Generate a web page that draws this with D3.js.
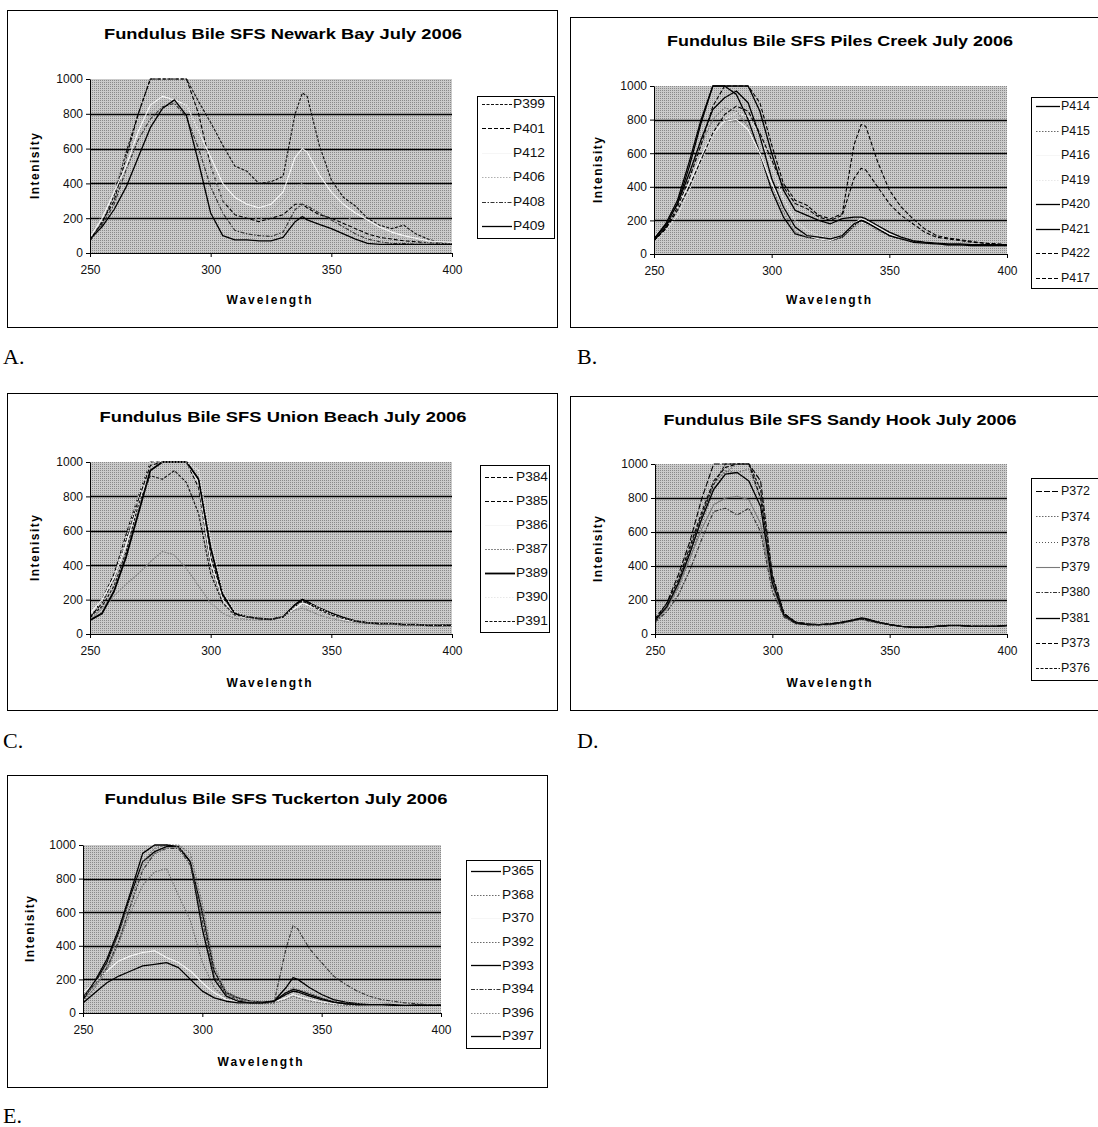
<!DOCTYPE html>
<html>
<head>
<meta charset="utf-8">
<script src="https://cdn.jsdelivr.net/npm/d3@7"></script>
<style>
  html, body { margin: 0; padding: 0; background: #fff; }
  svg { display: block; }
</style>
</head>
<body>
<svg id="chart" width="1098" height="1127"></svg>
<script>
// ---------------- DATA ----------------
const wavelengths = [250,255,260,265,270,275,280,285,290,295,300,305,310,315,320,325,330,335,338,340,345,350,355,360,365,370,375,380,385,390,395,400];
const xTicks = [250,300,350,400];
const yTicks = [0,200,400,600,800,1000];

const newarkNames = ["P399","P401","P412","P406","P408","P409"];
const newarkValues = [
  [80,170,330,580,800,1000,1000,1000,1000,870,750,620,500,470,400,410,440,800,920,900,620,420,320,270,200,160,140,160,110,80,60,55],
  [70,180,300,550,800,1000,1000,1000,1000,800,500,300,220,200,180,200,220,280,280,260,220,200,170,140,110,90,80,70,65,60,55,50],
  [90,200,350,500,700,850,900,880,850,700,550,400,320,280,260,280,350,550,600,580,450,350,280,230,190,150,120,100,85,70,65,60],
  [100,220,380,550,650,800,870,900,850,700,500,300,250,220,190,230,300,380,400,370,320,280,220,180,150,120,100,90,75,60,55,55],
  [70,160,280,480,650,770,840,860,780,600,380,230,130,110,100,95,120,250,280,270,230,190,150,110,80,65,55,55,50,50,50,50],
  [80,150,250,380,550,720,830,880,790,520,230,100,75,75,70,70,90,180,210,190,165,140,110,80,55,50,50,50,50,50,50,50]
];

const pilesNames = ["P414","P415","P416","P419","P420","P421","P422","P417"];
const pilesValues = [
  [80,160,300,520,780,1000,1000,950,800,600,380,220,120,100,90,80,100,170,200,190,150,110,90,75,65,60,55,55,50,50,50,50],
  [90,170,300,480,650,800,870,850,760,600,400,250,130,100,90,80,100,160,190,180,140,110,90,70,65,60,55,55,50,50,50,50],
  [100,180,280,420,580,720,790,800,740,600,420,280,160,110,90,80,110,180,210,200,160,120,90,70,65,60,55,55,50,50,50,50],
  [70,140,230,380,550,700,800,840,820,700,520,330,200,140,110,90,110,170,190,180,150,120,95,80,70,65,60,60,55,55,50,50],
  [90,170,300,480,680,860,930,970,900,700,450,280,160,110,100,90,110,180,200,190,150,110,90,70,65,60,55,55,50,50,50,50],
  [90,180,320,550,800,1000,1000,1000,1000,850,600,380,260,230,200,180,210,220,220,210,170,130,100,80,70,65,60,60,55,55,55,55],
  [80,150,280,450,650,880,1000,1000,1000,900,650,420,320,290,230,210,240,650,770,760,550,380,280,210,150,110,95,85,75,65,60,55],
  [80,150,260,400,560,720,830,880,850,720,560,400,300,270,220,200,230,450,510,500,400,300,230,180,130,100,90,80,70,65,60,55]
];

const unionNames = ["P384","P385","P386","P387","P389","P390","P391"];
const unionValues = [
  [90,200,350,580,800,1000,1000,1000,1000,900,450,220,120,100,90,85,100,160,190,180,150,120,90,75,65,60,60,55,55,50,50,50],
  [100,180,320,550,780,980,1000,1000,1000,850,400,200,110,100,90,85,100,170,200,190,150,110,90,75,65,60,60,55,55,50,50,50],
  [120,200,330,520,750,950,1000,1000,1000,880,420,200,110,95,90,85,95,150,180,170,140,110,85,70,60,60,55,55,50,50,50,45],
  [80,150,220,290,350,420,480,460,380,280,180,120,90,85,80,85,100,140,150,140,110,90,75,65,60,55,55,50,50,50,45,45],
  [80,120,250,450,700,950,1000,1000,1000,900,500,230,120,100,90,85,100,170,200,185,150,120,95,75,65,60,60,55,55,50,50,50],
  [110,190,330,560,800,1000,1000,1000,1000,950,550,250,130,100,90,85,100,160,190,180,150,115,90,75,65,60,60,55,55,50,50,50],
  [100,160,280,480,750,920,900,950,880,700,350,180,110,100,90,85,100,170,190,180,140,110,90,75,65,60,60,55,55,50,50,50]
];

const sandyNames = ["P372","P374","P378","P379","P380","P381","P373","P376"];
const sandyValues = [
  [80,180,350,550,800,1000,1000,1000,1000,900,350,120,70,60,55,60,70,80,90,85,70,55,45,40,40,45,50,50,45,45,45,50],
  [90,170,300,480,700,880,960,950,970,800,320,110,65,60,55,60,70,85,90,85,70,55,45,40,40,45,50,50,45,45,45,50],
  [70,150,270,450,650,850,950,1000,1000,850,300,110,65,55,55,60,65,80,90,85,70,55,45,40,40,45,50,50,45,45,45,50],
  [80,150,280,450,620,760,800,810,790,650,280,100,60,55,55,55,65,80,85,80,65,55,45,40,40,45,50,50,45,45,45,50],
  [70,130,230,380,560,720,740,700,740,600,250,100,60,55,55,55,65,80,90,80,65,55,45,40,40,45,50,50,45,45,45,50],
  [80,160,300,480,680,850,940,950,900,750,300,110,65,55,55,60,70,85,95,90,70,55,45,40,40,45,50,50,45,45,45,50],
  [90,180,320,520,720,900,980,1000,1000,800,330,120,70,60,55,60,70,85,90,85,70,55,45,40,40,45,50,50,45,45,45,50],
  [80,160,300,500,700,880,1000,1000,1000,850,340,110,65,55,55,60,70,80,90,85,70,55,45,40,40,45,50,50,45,45,45,50]
];

const tuckertonNames = ["P365","P368","P370","P392","P393","P394","P396","P397"];
const tuckertonValues = [
  [80,180,300,480,700,900,960,990,990,900,600,250,120,90,70,65,70,150,210,200,150,110,80,65,55,55,55,50,50,50,45,45],
  [100,160,250,420,650,900,980,1000,1000,950,650,280,130,90,70,65,70,120,150,140,120,90,70,60,55,55,55,50,50,50,45,45],
  [120,180,250,310,340,360,370,330,300,250,180,120,80,70,65,60,65,90,110,100,80,65,55,50,50,55,55,50,50,45,45,45],
  [70,150,260,420,600,760,840,860,700,550,300,150,90,70,60,55,60,80,100,90,70,60,50,45,45,50,50,45,45,45,45,45],
  [90,190,320,500,720,950,1000,1000,990,900,500,200,100,70,60,60,70,120,140,135,110,85,65,55,50,50,50,50,45,45,45,45],
  [100,170,270,430,640,850,950,980,980,880,550,220,110,80,65,60,60,380,520,500,380,300,220,170,130,100,80,70,60,55,50,50],
  [90,170,290,470,690,880,950,980,990,920,620,260,120,85,65,60,65,110,130,125,100,80,65,55,50,50,50,45,45,45,45,45],
  [60,120,180,220,250,280,290,300,270,200,130,90,70,60,60,60,70,110,130,125,100,80,65,55,50,50,50,45,45,45,45,45]
];

// ---------------- STYLES ----------------
const ST = {
  solid:   {c:"#000", d:null, w:1.3},
  solidB:  {c:"#000", d:null, w:1.8},
  dash:    {c:"#000", d:"4,2", w:1.1},
  sdash:   {c:"#111", d:"3,1.5", w:1.1},
  ldash:   {c:"#000", d:"6,2", w:1.1},
  dot:     {c:"#6a6a6a", d:"1.5,1.5", w:1.1},
  ldot:    {c:"#e8e8e8", d:"1.5,1.5", w:1.2},
  fdot:    {c:"#555", d:"1,2", w:1.1},
  white:   {c:"#f6f6f6", d:null, w:1.1},
  dashdot: {c:"#333", d:"4,1.5,1.5,1.5", w:1.1},
  gray:    {c:"#7a7a7a", d:null, w:1.1}
};

const panels = [
  { title:"Fundulus Bile SFS Newark Bay July 2006", tlen:358, tx:283, ty:39,
    frame:[7,10,557,327], plot:[90,79,452,253], yTitleX:35, xTitleY:300, xtl:85,
    legend:[477,96,554,238], legY0:104, legDy:24.4, lineLen:30, txtLen:32,
    names:newarkNames, values:newarkValues,
    styles:[ST.sdash, ST.dash, ST.white, {c:"#b0b0b0",d:"1.5,1.5",w:1.2}, ST.dashdot, ST.solid],
    letter:"A.", lx:3, ly:364 },
  { title:"Fundulus Bile SFS Piles Creek July 2006", tlen:346, tx:840, ty:46,
    frame:[570,17,1120,327], plot:[654,86,1007,254], yTitleX:598, xTitleY:300, xtl:85,
    legend:[1031,97,1120,288], legY0:106, legDy:24.5, lineLen:24, txtLen:29,
    names:pilesNames, values:pilesValues,
    styles:[ST.solid, ST.dot, ST.white, ST.ldot, ST.solid, ST.solid, ST.dash, ST.dash],
    letter:"B.", lx:577, ly:364 },
  { title:"Fundulus Bile SFS Union Beach July 2006", tlen:367, tx:283, ty:422,
    frame:[7,393,557,710], plot:[90,462,452,634], yTitleX:35, xTitleY:683, xtl:85,
    legend:[480,465,549,632], legY0:477, legDy:24, lineLen:30, txtLen:32,
    names:unionNames, values:unionValues,
    styles:[ST.dash, ST.dash, ST.white, {c:"#8a8a8a",d:"2,1",w:1.2}, ST.solidB, ST.ldot, ST.sdash],
    letter:"C.", lx:3, ly:748 },
  { title:"Fundulus Bile SFS Sandy Hook July 2006", tlen:353, tx:840, ty:425,
    frame:[570,396,1120,710], plot:[655,464,1007,634], yTitleX:598, xTitleY:683, xtl:85,
    legend:[1031,478,1120,680], legY0:491, legDy:25.3, lineLen:24, txtLen:29,
    names:sandyNames, values:sandyValues,
    styles:[ST.ldash, ST.dot, ST.fdot, ST.gray, ST.dashdot, ST.solid, ST.dash, ST.sdash],
    letter:"D.", lx:577, ly:748 },
  { title:"Fundulus Bile SFS Tuckerton July 2006", tlen:343, tx:276, ty:804,
    frame:[7,775,547,1087], plot:[83,845,441,1013], yTitleX:30, xTitleY:1062, xtl:85,
    legend:[466,860,540,1048], legY0:871, legDy:23.6, lineLen:30, txtLen:32,
    names:tuckertonNames, values:tuckertonValues,
    styles:[ST.solid, ST.dot, ST.white, ST.dot, ST.solid, ST.dashdot, {c:"#8a8a8a",d:"1.5,1.5",w:1.1}, ST.solid],
    letter:"E.", lx:3, ly:1123 }
];

// ---------------- DRAW ----------------
const svg = d3.select("#chart");
const defs = svg.append("defs");
const pat = defs.append("pattern").attr("id","dither")
  .attr("patternUnits","userSpaceOnUse").attr("width",2).attr("height",2);
pat.append("rect").attr("width",2).attr("height",2).attr("fill","#cbcbcb");
pat.append("rect").attr("width",1).attr("height",1).attr("fill","#8a8a8a");

const SANS = "'Liberation Sans', Arial, sans-serif";

panels.forEach((p, pi) => {
  const [fx0, fy0, fx1, fy1] = p.frame;
  const [px0, py0, px1, py1] = p.plot;
  const g = svg.append("g");

  g.append("rect").attr("x", fx0 + 0.5).attr("y", fy0 + 0.5)
    .attr("width", fx1 - fx0).attr("height", fy1 - fy0)
    .attr("fill", "#fff").attr("stroke", "#000").attr("stroke-width", 1);

  const x = d3.scaleLinear().domain([250, 400]).range([px0, px1]);
  const y = d3.scaleLinear().domain([0, 1000]).range([py1, py0]);

  g.append("rect").attr("x", px0).attr("y", py0)
    .attr("width", px1 - px0).attr("height", py1 - py0)
    .attr("fill", "url(#dither)");

  g.append("g").selectAll("line").data(yTicks.filter(v => v > 0 && v < 1000)).join("line")
    .attr("x1", px0).attr("x2", px1)
    .attr("y1", d => Math.round(y(d)) + 0.5).attr("y2", d => Math.round(y(d)) + 0.5)
    .attr("stroke", "#000").attr("stroke-width", 1.4);

  const cid = "clip" + pi;
  defs.append("clipPath").attr("id", cid).append("rect")
    .attr("x", px0).attr("y", py0 - 1).attr("width", px1 - px0).attr("height", py1 - py0 + 1);

  const line = d3.line().x((d, i) => x(wavelengths[i])).y(d => y(Math.min(d, 1000)));
  const lg = g.append("g").attr("clip-path", `url(#${cid})`);
  p.values.forEach((vals, si) => {
    const s = p.styles[si];
    lg.append("path").attr("d", line(vals))
      .attr("fill", "none").attr("stroke", s.c).attr("stroke-width", s.w)
      .attr("stroke-dasharray", s.d).attr("stroke-linejoin", "round");
  });

  const ya = g.append("g").attr("transform", `translate(${px0},0)`)
    .call(d3.axisLeft(y).tickValues(yTicks).tickSize(4).tickSizeOuter(0).tickPadding(3).tickFormat(d3.format("d")));
  const xa = g.append("g").attr("transform", `translate(0,${py1})`)
    .call(d3.axisBottom(x).tickValues(xTicks).tickSize(4).tickSizeOuter(0).tickPadding(8).tickFormat(d3.format("d")));
  [ya, xa].forEach(a => {
    a.selectAll("text").attr("font-family", SANS).attr("font-size", 12).attr("fill", "#111");
    a.selectAll("line").attr("stroke", "#000");
    a.select(".domain").attr("stroke", "#000");
  });

  g.append("text").attr("x", p.tx).attr("y", p.ty).attr("text-anchor", "middle")
    .attr("font-family", SANS).attr("font-weight", "bold").attr("font-size", 15)
    .attr("textLength", p.tlen).attr("lengthAdjust", "spacingAndGlyphs")
    .text(p.title);

  g.append("text").attr("transform", `translate(${p.yTitleX},${(py0 + py1) / 2}) rotate(-90)`)
    .attr("text-anchor", "middle").attr("dy", "0.35em")
    .attr("font-family", SANS).attr("font-weight", "bold").attr("font-size", 12)
    .attr("textLength", 66).attr("lengthAdjust", "spacing")
    .text("Intenisity");
  g.append("text").attr("x", (px0 + px1) / 2 - 2).attr("y", p.xTitleY).attr("text-anchor", "middle")
    .attr("dy", "0.35em")
    .attr("font-family", SANS).attr("font-weight", "bold").attr("font-size", 12)
    .attr("textLength", p.xtl).attr("lengthAdjust", "spacing")
    .text("Wavelength");

  const [lx0, ly0, lx1, ly1] = p.legend;
  g.append("rect").attr("x", lx0 + 0.5).attr("y", ly0 + 0.5)
    .attr("width", lx1 - lx0).attr("height", ly1 - ly0)
    .attr("fill", "#fff").attr("stroke", "#000").attr("stroke-width", 1);
  p.names.forEach((nm, si) => {
    const s = p.styles[si];
    const yy = p.legY0 + si * p.legDy;
    g.append("line").attr("x1", lx0 + 5).attr("x2", lx0 + 5 + p.lineLen)
      .attr("y1", Math.round(yy) + 0.5).attr("y2", Math.round(yy) + 0.5)
      .attr("stroke", s.c).attr("stroke-width", s.w).attr("stroke-dasharray", s.d);
    g.append("text").attr("x", lx0 + 6 + p.lineLen).attr("y", yy).attr("dy", "0.35em")
      .attr("font-family", SANS).attr("font-size", 12).attr("fill", "#111")
      .attr("textLength", p.txtLen).attr("lengthAdjust", "spacingAndGlyphs")
      .text(nm);
  });

  svg.append("text").attr("x", p.lx).attr("y", p.ly)
    .attr("font-family", "'Liberation Serif', 'Times New Roman', serif").attr("font-size", 22)
    .attr("fill", "#000").text(p.letter);
});
</script>
</body>
</html>
